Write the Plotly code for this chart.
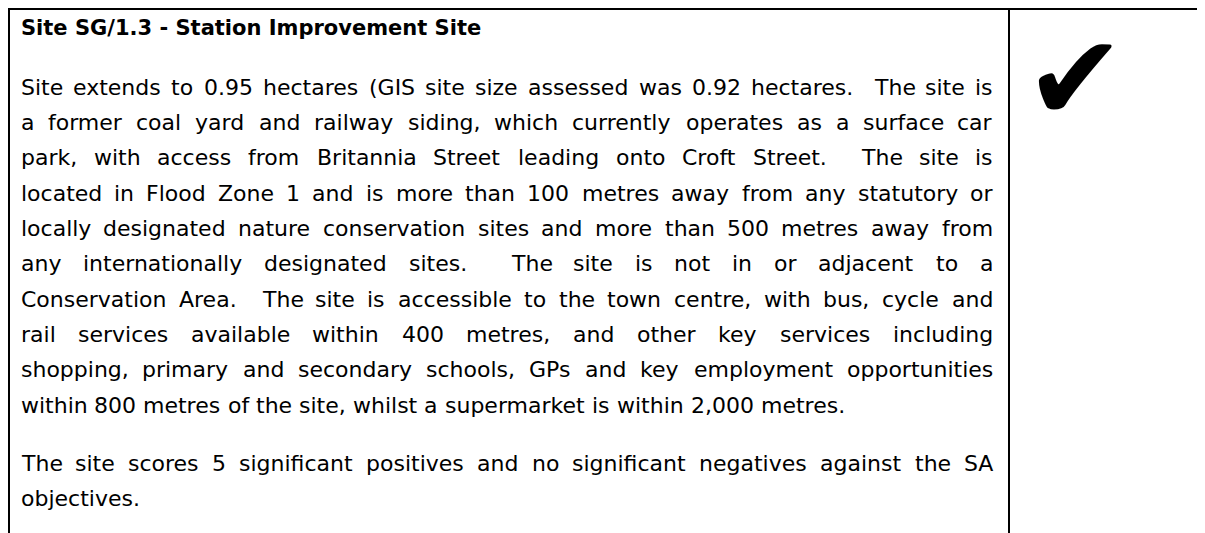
import re
import plotly.graph_objects as go

# ---------------- content ----------------
heading = "Site SG/1.3 - Station Improvement Site"

para1_lines = [
    "Site extends to 0.95 hectares (GIS site size assessed was 0.92 hectares.  The site is",
    "a former coal yard and railway siding, which currently operates as a surface car",
    "park, with access from Britannia Street leading onto Croft Street.  The site is",
    "located in Flood Zone 1 and is more than 100 metres away from any statutory or",
    "locally designated nature conservation sites and more than 500 metres away from",
    "any internationally designated sites.  The site is not in or adjacent to a",
    "Conservation Area.  The site is accessible to the town centre, with bus, cycle and",
    "rail services available within 400 metres, and other key services including",
    "shopping, primary and secondary schools, GPs and key employment opportunities",
    "within 800 metres of the site, whilst a supermarket is within 2,000 metres.",
]
para1_justify = [True, True, True, True, True, True, True, True, True, False]

para2_lines = [
    "The site scores 5 significant positives and no significant negatives against the SA",
    "objectives.",
]
para2_justify = [True, False]

check_mark = "\u2714"

# ---------------- layout constants ----------------
# The page body has an 8px margin, so the figure is 8px smaller and the
# axes are set so that data units equal window pixels.
PAGE_W, PAGE_H = 1205, 533
OFFSET = 8
W, H = PAGE_W - OFFSET, PAGE_H - OFFSET
FONT = "DejaVu Sans"
BODY_SIZE = 22
HEAD_SIZE = 21
TEXT_LEFT = 20.5
TEXT_RIGHT = 993
HEAD_BASELINE = 35
P1_BASELINE0 = 95
P2_BASELINE0 = 471
LINE_STEP = 35.3
BORDER_Y = 9
BORDER_LEFT_X = 9
DIVIDER_X = 1009
CHECK_SIZE = 120
CHECK_X = 1075.5
CHECK_Y = OFFSET + 0.586 * CHECK_SIZE   # keep the glyph's text box inside the figure

# DejaVu Sans advance widths (em)
ADV = {
    ' ': 0.318, 'a': 0.613, 'b': 0.635, 'c': 0.550, 'd': 0.635, 'e': 0.615,
    'f': 0.352, 'g': 0.635, 'h': 0.634, 'i': 0.278, 'j': 0.278, 'k': 0.579,
    'l': 0.278, 'm': 0.974, 'n': 0.634, 'o': 0.612, 'p': 0.635, 'q': 0.635,
    'r': 0.411, 's': 0.521, 't': 0.392, 'u': 0.634, 'v': 0.592, 'w': 0.818,
    'x': 0.592, 'y': 0.592, 'z': 0.525, '.': 0.318, ',': 0.318, '(': 0.390,
    ')': 0.390, '-': 0.361, '/': 0.337,
    'A': 0.684, 'B': 0.686, 'C': 0.698, 'F': 0.575, 'G': 0.775, 'I': 0.295,
    'P': 0.603, 'S': 0.635, 'T': 0.611, 'Z': 0.685,
}
for d in "0123456789":
    ADV[d] = 0.636


def word_width(w, size):
    return sum(ADV.get(c, 0.6) for c in w) * size


def line_annotations(line, justify, baseline, size):
    words = re.findall(r"\S+", line)
    gaps = [len(g) for g in re.findall(r" +", line.strip())]
    ww = [word_width(w, size) for w in words]
    sp = ADV[' '] * size
    nsp = sum(gaps)
    natural = sum(ww) + nsp * sp
    extra = (TEXT_RIGHT - TEXT_LEFT - natural) / nsp if (justify and nsp) else 0.0
    anns = []
    x = TEXT_LEFT
    ymid = baseline - 0.346 * size
    for i, w in enumerate(words):
        last = (i == len(words) - 1)
        if justify and last and i > 0:
            ax, anchor = TEXT_RIGHT, "right"
        else:
            ax, anchor = x, "left"
        anns.append(dict(
            text=w, x=ax, y=ymid, xref="x", yref="y", xanchor=anchor,
            yanchor="middle", showarrow=False, borderpad=0, borderwidth=0,
            font=dict(family=FONT, size=size, color="#000000"),
        ))
        x += ww[i]
        if i < len(gaps):
            x += gaps[i] * (sp + extra)
    return anns


annotations = []
annotations.append(dict(
    text="<b>" + heading + "</b>", x=TEXT_LEFT, y=HEAD_BASELINE - 0.346 * HEAD_SIZE,
    xref="x", yref="y", xanchor="left", yanchor="middle", showarrow=False,
    borderpad=0, borderwidth=0,
    font=dict(family=FONT, size=HEAD_SIZE, color="#000000"),
))
for k, (ln, j) in enumerate(zip(para1_lines, para1_justify)):
    annotations += line_annotations(ln, j, P1_BASELINE0 + k * LINE_STEP, BODY_SIZE)
for k, (ln, j) in enumerate(zip(para2_lines, para2_justify)):
    annotations += line_annotations(ln, j, P2_BASELINE0 + k * LINE_STEP, BODY_SIZE)

annotations.append(dict(
    text=check_mark, x=CHECK_X, y=CHECK_Y, xref="x", yref="y",
    xanchor="center", yanchor="middle", showarrow=False, borderpad=0,
    borderwidth=0,
    font=dict(family=FONT, size=CHECK_SIZE, color="#000000"),
))

line_style = dict(color="#000000", width=2)
shapes = [
    dict(type="line", xref="x", yref="y", x0=BORDER_LEFT_X - 1, x1=PAGE_W, y0=BORDER_Y, y1=BORDER_Y, line=line_style),
    dict(type="line", xref="x", yref="y", x0=BORDER_LEFT_X, x1=BORDER_LEFT_X, y0=BORDER_Y, y1=PAGE_H, line=line_style),
    dict(type="line", xref="x", yref="y", x0=DIVIDER_X, x1=DIVIDER_X, y0=BORDER_Y, y1=PAGE_H, line=line_style),
]

fig = go.Figure()
fig.update_layout(
    width=W, height=H,
    margin=dict(l=0, r=0, t=0, b=0, pad=0),
    paper_bgcolor="white", plot_bgcolor="white",
    xaxis=dict(range=[OFFSET, PAGE_W], visible=False, showgrid=False, zeroline=False, fixedrange=True),
    yaxis=dict(range=[PAGE_H, OFFSET], visible=False, showgrid=False, zeroline=False, fixedrange=True),
    annotations=annotations,
    shapes=shapes,
    showlegend=False,
)
fig.write_html("out.html", config={"displayModeBar": False})
